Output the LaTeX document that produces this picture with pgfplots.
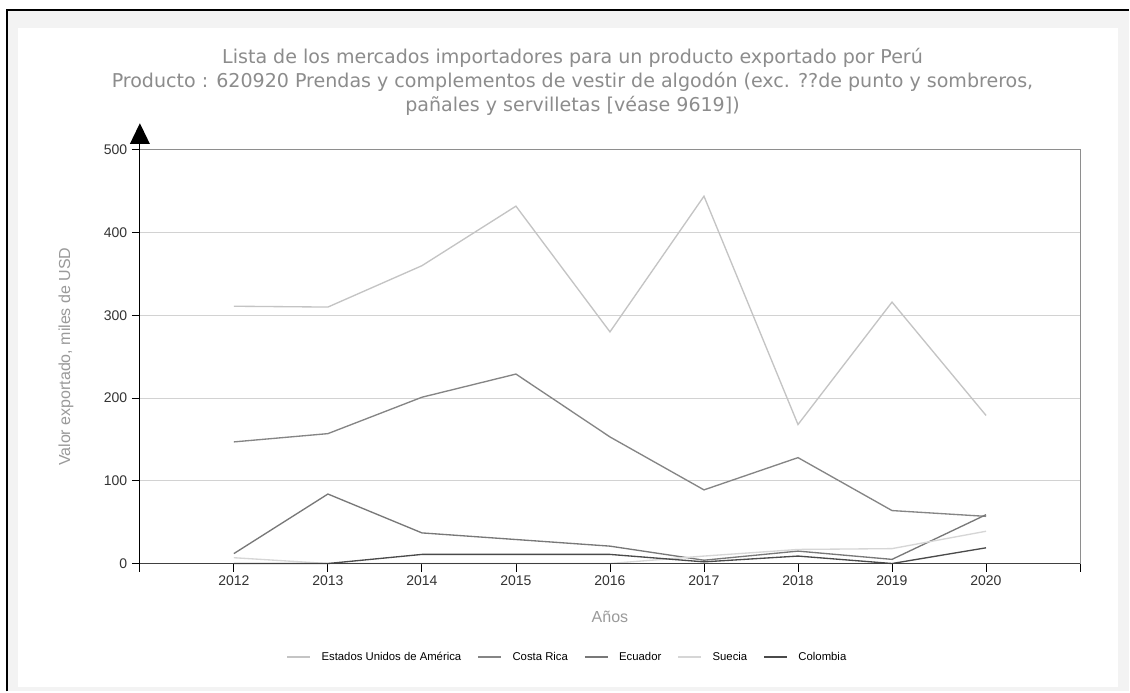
\documentclass[border=0pt]{standalone}
\usepackage{pgfplots}
\pgfplotsset{compat=1.18}
\usepackage{fontspec}
\setmainfont{Liberation Sans}
\newfontfamily\titlefont{DejaVu Sans}
\definecolor{bggray}{HTML}{F3F3F3}
\definecolor{titlegray}{HTML}{8C8C8C}
\definecolor{labgray}{HTML}{9A9A9A}
\definecolor{ticktext}{HTML}{333333}
\definecolor{cUS}{HTML}{C4C4C4}
\definecolor{cCR}{HTML}{858585}
\definecolor{cEC}{HTML}{787878}
\definecolor{cSE}{HTML}{D6D6D6}
\definecolor{cCO}{HTML}{4A4A4A}
\definecolor{gridgray}{HTML}{D2D2D2}
\definecolor{boxgray}{HTML}{8E8E8E}
\begin{document}
\begin{tikzpicture}
\begin{scope}[x=0.75pt,y=-0.75pt]
\path (0,0) rectangle (1130,692);
\fill[bggray] (7,10) rectangle (1130,692);
\fill[white] (18,28) rectangle (1119,688);
\draw[black,line width=1.5pt] (7,692) -- (7,10) -- (1130,10);
\node[color=titlegray,font=\titlefont\fontsize{14.3}{18}\selectfont,align=center] at (573,82)
 {Lista de los mercados importadores para un producto exportado por Perú\\
  Producto : 620920 Prendas y complementos de vestir de algodón (exc. ??de punto y sombreros,\\
  pañales y servilletas [véase 9619])};
\end{scope}
\begin{axis}[
  at={(105pt,-423pt)}, anchor=south west,
  scale only axis, width=705.75pt, height=310.5pt,
  xmin=2011, xmax=2021, ymin=0, ymax=500,
  xtick={2011,2012,...,2021},
  xticklabels={,2012,2013,2014,2015,2016,2017,2018,2019,2020,},
  ytick={0,100,...,500},
  /pgf/number format/1000 sep={},
  /pgf/number format/assume math mode=true,
  tick label style={font=\fontsize{10.5}{12}\selectfont, color=ticktext},
  ymajorgrids, grid style={gridgray, line width=0.6pt},
  axis line style={boxgray, line width=0.6pt},
  tick style={black, line width=0.6pt},
  major tick length=6pt,
  xtick pos=bottom, ytick pos=left,
  xtick align=outside, ytick align=outside,
  xlabel={Años}, ylabel={Valor exportado, miles de USD},
  label style={font=\fontsize{12}{14}\selectfont, color=labgray},
  xlabel style={yshift=-12pt},
  ylabel style={yshift=16pt},
  legend columns=5,
  legend style={at={(0.455,-0.2),}, anchor=north, draw=none, fill=none,
    font=\fontsize{8.5}{10}\selectfont, column sep=6pt,
    /tikz/every even column/.append style={column sep=10pt}},
  legend image post style={line width=1.4pt},
  every axis plot/.append style={line width=1pt},
  clip=false,
]
\addplot[cUS] coordinates {(2012,311)(2013,310)(2014,360)(2015,432)(2016,280)(2017,444)(2018,168)(2019,316)(2020,179)};
\addlegendentry{Estados Unidos de América}
\addplot[cCR] coordinates {(2012,147)(2013,157)(2014,201)(2015,229)(2016,153)(2017,89)(2018,128)(2019,64)(2020,57)};
\addlegendentry{Costa Rica}
\addplot[cEC] coordinates {(2012,12)(2013,84)(2014,37)(2015,29)(2016,21)(2017,4)(2018,15)(2019,5)(2020,59)};
\addlegendentry{Ecuador}
\addplot[cSE] coordinates {(2012,7)(2013,0)(2014,0)(2015,0)(2016,0)(2017,9)(2018,17)(2019,18)(2020,39)};
\addlegendentry{Suecia}
\addplot[cCO] coordinates {(2012,0)(2013,0)(2014,11)(2015,11)(2016,11)(2017,2)(2018,9)(2019,0)(2020,19)};
\addlegendentry{Colombia}
\draw[black, line width=0.7pt] (rel axis cs:0,0) -- (rel axis cs:0,1) -- ++(0pt,4.5pt);
\draw[black!75, line width=0.7pt] (rel axis cs:0,0) -- (rel axis cs:1,0);
\fill[black] (rel axis cs:0,1) ++(0pt,4.5pt) ++(-7.5pt,0pt) -- ++(15pt,0pt) -- ++(-7.5pt,15.5pt) -- cycle;
\end{axis}
\end{tikzpicture}
\end{document}
